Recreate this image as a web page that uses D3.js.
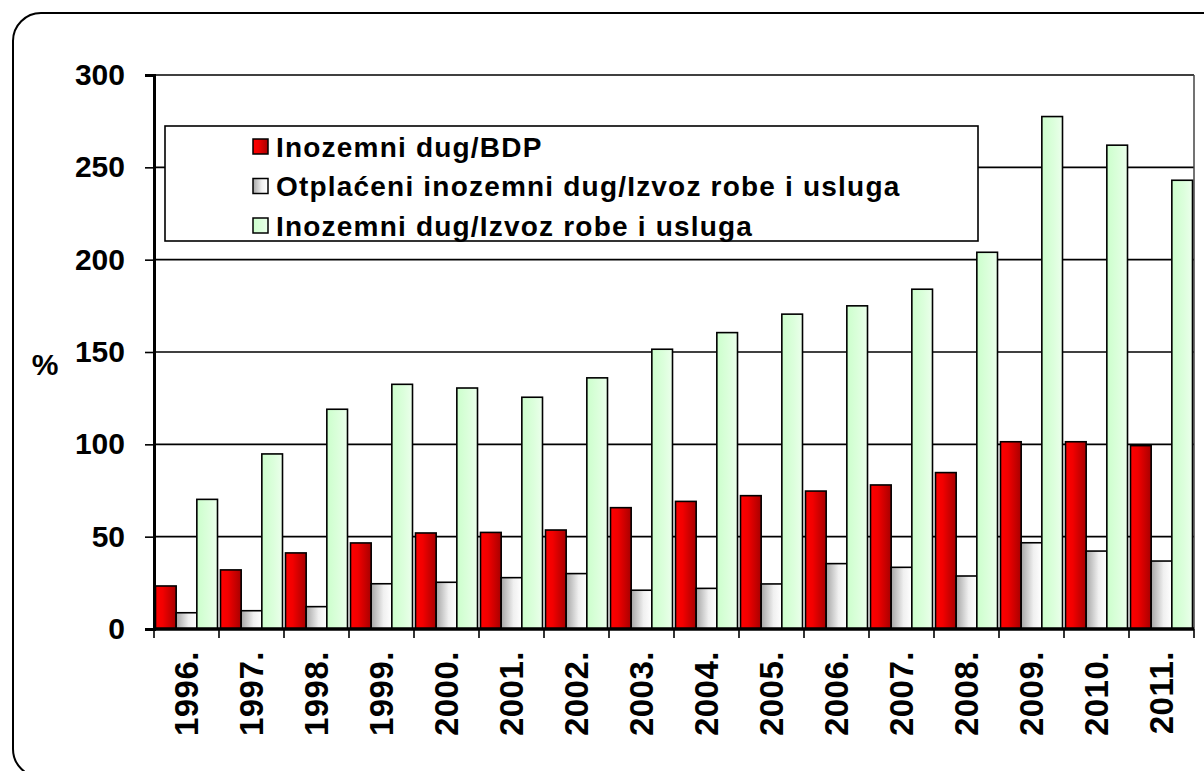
<!DOCTYPE html>
<html>
<head>
<meta charset="utf-8">
<script src="https://cdn.jsdelivr.net/npm/d3@7/dist/d3.min.js"></script>
<style>
  body { margin: 0; background: #fff; }
  svg text { font-family: "Liberation Sans", Arial, sans-serif; font-weight: bold; fill: #000; }
</style>
</head>
<body>
<svg id="chart" width="1204" height="771"></svg>
<script>
// podaci ocitani sa slike
var years = ["1996.", "1997.", "1998.", "1999.", "2000.", "2001.", "2002.", "2003.",
             "2004.", "2005.", "2006.", "2007.", "2008.", "2009.", "2010.", "2011."];
var seriesNames = ["Inozemni dug/BDP",
                   "Otplaćeni inozemni dug/Izvoz robe i usluga",
                   "Inozemni dug/Izvoz robe i usluga"];
var dugBdp = [23.3, 32, 41.2, 46.6, 52, 52.3, 53.6, 65.7, 69.1, 72.2, 74.7, 78, 84.7, 101.4, 101.4, 99.3];
var otplaceniIzvoz = [8.8, 9.9, 12.1, 24.5, 25.3, 27.8, 30, 21, 22, 24.4, 35.4, 33.4, 28.7, 46.7, 42.2, 36.8];
var dugIzvoz = [70.2, 94.8, 119, 132.5, 130.5, 125.5, 136, 151.5, 160.5, 170.5, 175, 184, 204, 277.5, 262, 243];
var yTicks = [0, 50, 100, 150, 200, 250, 300];

function draw() {
    var seriesValues = [dugBdp, otplaceniIzvoz, dugIzvoz];
    var gradIds = ["gRed", "gGrey", "gGreen"];

    var svg = d3.select("#chart");
    var defs = svg.append("defs");

    function gradient(id, stops) {
        var g = defs.append("linearGradient").attr("id", id)
            .attr("x1", 0).attr("x2", 1).attr("y1", 0).attr("y2", 0);
        stops.forEach(s => g.append("stop").attr("offset", s[0]).attr("stop-color", s[1]));
    }
    gradient("gRed", [[0, "#ff0000"], [0.35, "#f20000"], [1, "#a80000"]]);
    gradient("gGrey", [[0, "#a6a6a6"], [0.6, "#f0f0f0"], [1, "#ffffff"]]);
    gradient("gGreen", [[0, "#ccffcc"], [0.6, "#ddffdd"], [1, "#ecffec"]]);

    // okvir
    svg.append("rect")
        .attr("x", 13).attr("y", 13)
        .attr("width", 1230).attr("height", 764)
        .attr("rx", 28)
        .attr("fill", "none").attr("stroke", "#000").attr("stroke-width", 2);

    var pLeft = 154, pRight = 1194, pTop = 75, pBottom = 629;

    var x0 = d3.scaleBand().domain(years).range([pLeft, pRight]).padding(0);
    var x1 = d3.scaleBand().domain(d3.range(3)).range([1.5, x0.bandwidth() - 1.5]).padding(0);
    var y = d3.scaleLinear().domain([0, 300]).range([pBottom, pTop]);

    // mreza
    svg.append("g").selectAll("line")
        .data(yTicks.filter(d => d > 0))
        .enter().append("line")
        .attr("x1", pLeft).attr("x2", pRight)
        .attr("y1", d => y(d)).attr("y2", d => y(d))
        .attr("stroke", "#000").attr("stroke-width", 1.6);

    // desni rub
    svg.append("line")
        .attr("x1", pRight).attr("x2", pRight)
        .attr("y1", pTop).attr("y2", pBottom)
        .attr("stroke", "#444").attr("stroke-width", 1.5);

    // stupci
    var groups = svg.append("g").selectAll("g")
        .data(years)
        .enter().append("g")
        .attr("transform", d => "translate(" + x0(d) + ",0)");

    groups.selectAll("rect")
        .data((d, i) => seriesValues.map((s, k) => ({ k: k, v: s[i] })))
        .enter().append("rect")
        .attr("x", d => x1(d.k))
        .attr("width", x1.bandwidth())
        .attr("y", d => y(d.v))
        .attr("height", d => pBottom - y(d.v))
        .attr("fill", d => "url(#" + gradIds[d.k] + ")")
        .attr("stroke", "#000").attr("stroke-width", 1.6);

    // os y
    var yAxis = svg.append("g")
        .attr("transform", "translate(" + pLeft + ",0)")
        .call(d3.axisLeft(y).tickValues(yTicks).tickSize(9).tickPadding(20));
    yAxis.select(".domain").attr("stroke", "#000").attr("stroke-width", 3);
    yAxis.selectAll(".tick line").attr("stroke", "#000").attr("stroke-width", 1.6);
    yAxis.selectAll("text").attr("font-size", 30).attr("font-family", "Liberation Sans, Arial, sans-serif")
        .attr("font-weight", "bold");

    // os x
    var xAxis = svg.append("g")
        .attr("transform", "translate(0," + pBottom + ")")
        .call(d3.axisBottom(x0).tickSize(0).tickPadding(0));
    xAxis.select(".domain").remove();
    xAxis.selectAll("text")
        .attr("font-size", 33).attr("font-family", "Liberation Sans, Arial, sans-serif")
        .attr("font-weight", "bold")
        .attr("letter-spacing", 0.5)
        .attr("text-anchor", "end")
        .attr("x", 0).attr("y", 0).attr("dy", "0.36em")
        .attr("transform", "translate(0,22) rotate(-90)");

    svg.append("line")
        .attr("x1", pLeft - 1).attr("x2", pRight)
        .attr("y1", pBottom).attr("y2", pBottom)
        .attr("stroke", "#000").attr("stroke-width", 3.5);

    var edges = years.map(d => x0(d)).concat([pRight]);
    svg.append("g").selectAll("line")
        .data(edges)
        .enter().append("line")
        .attr("x1", d => d).attr("x2", d => d)
        .attr("y1", pBottom).attr("y2", pBottom + 9)
        .attr("stroke", "#000").attr("stroke-width", 1.6);

    // oznaka osi
    svg.append("text")
        .attr("x", 45).attr("y", 364)
        .attr("text-anchor", "middle").attr("dy", "0.35em")
        .attr("font-size", 30)
        .text("%");

    // legenda
    var legend = svg.append("g");
    legend.append("rect")
        .attr("x", 165).attr("y", 126)
        .attr("width", 813).attr("height", 115)
        .attr("fill", "#fff").attr("stroke", "#000").attr("stroke-width", 1.6);

    var items = legend.selectAll(".item")
        .data(seriesNames)
        .enter().append("g")
        .attr("class", "item")
        .attr("transform", (d, i) => "translate(0," + (146.5 + i * 39.5) + ")");
    items.append("rect")
        .attr("x", 253).attr("y", -7.5)
        .attr("width", 15).attr("height", 15)
        .attr("fill", (d, i) => "url(#" + gradIds[i] + ")")
        .attr("stroke", "#000").attr("stroke-width", 1.5);
    items.append("text")
        .attr("x", 276).attr("dy", "0.36em")
        .attr("font-size", 28)
        .attr("letter-spacing", 1.2)
        .text(d => d);
}
draw();
</script>
</body>
</html>
